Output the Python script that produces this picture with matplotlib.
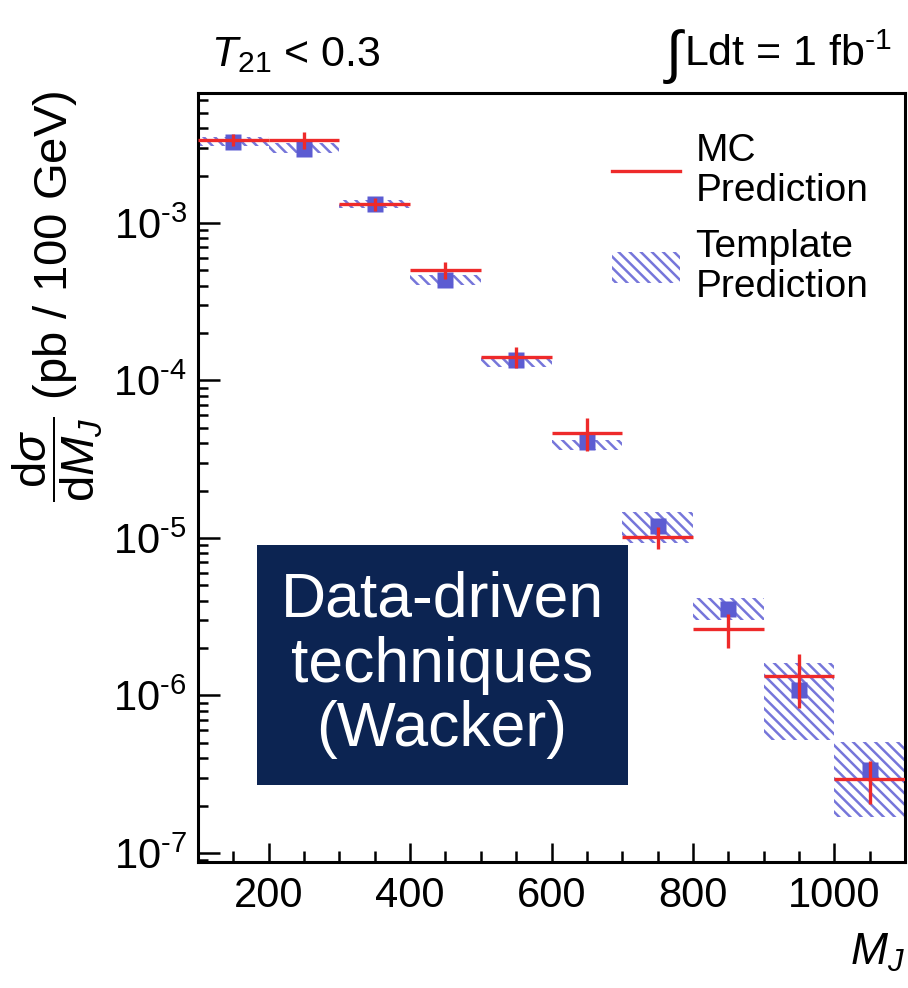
import numpy as np
import matplotlib
matplotlib.use("Agg")
import matplotlib.pyplot as plt
from matplotlib.lines import Line2D
from matplotlib.patches import Patch, Rectangle
from matplotlib.ticker import MultipleLocator, LogLocator, NullFormatter, FuncFormatter

plt.rcParams['font.family'] = ['Liberation Sans', 'DejaVu Sans']
plt.rcParams['mathtext.fontset'] = 'custom'
plt.rcParams['mathtext.rm'] = 'Liberation Sans'
plt.rcParams['mathtext.it'] = 'Liberation Sans:italic'
plt.rcParams['hatch.linewidth'] = 1.8

# bins of M_J (GeV)
bin_lo = np.array([100, 200, 300, 400, 500, 600, 700, 800, 900, 1000])
bin_hi = bin_lo + 100
centers = (bin_lo + bin_hi) / 2

# MC prediction and its error
mc = np.array([3.37e-3, 3.37e-3, 1.32e-3, 5.04e-4, 1.41e-4, 4.64e-5,
               1.01e-5, 2.64e-6, 1.33e-6, 2.95e-7])
mc_err = np.array([2.8e-4, 4.2e-4, 1.3e-4, 6.2e-5, 2.1e-5, 1.1e-5,
                   1.6e-6, 6.5e-7, 5.0e-7, 8.9e-8])

# template prediction: central value and band
templ = np.array([3.24e-3, 2.93e-3, 1.32e-3, 4.35e-4, 1.35e-4, 4.07e-5,
                  1.19e-5, 3.54e-6, 1.08e-6, 3.36e-7])
templ_lo = np.array([3.08e-3, 2.78e-3, 1.25e-3, 4.04e-4, 1.22e-4, 3.62e-5,
                     9.29e-6, 3.01e-6, 5.21e-7, 1.69e-7])
templ_hi = np.array([3.52e-3, 3.22e-3, 1.40e-3, 4.68e-4, 1.41e-4, 4.19e-5,
                     1.46e-5, 4.16e-6, 1.61e-6, 5.07e-7])

red = '#ee2a2a'
blue = '#5c5cd2'
hatch_col = '#7676da'

fig = plt.figure(figsize=(9.08, 9.88), dpi=100)
ax = fig.add_axes([198/908, 1-862/988, 707/908, 769/988])

ax.bar(centers, templ_hi - templ_lo, bottom=templ_lo, width=100,
       fill=False, hatch='\\\\\\', edgecolor=hatch_col, linewidth=0, zorder=1)
ax.plot(centers, templ, 's', ms=11.5, color=blue, mec='none', zorder=2)
ax.errorbar(centers, mc, xerr=50, yerr=mc_err, fmt='none', ecolor=red,
            elinewidth=2.4, capsize=0, zorder=3)

ax.set_yscale('log')
ax.set_xlim(100, 1100)
ax.set_ylim(8.77e-8, 6.68e-3)

ax.xaxis.set_major_locator(MultipleLocator(200))
ax.xaxis.set_minor_locator(MultipleLocator(50))
ax.yaxis.set_major_locator(LogLocator(base=10, numticks=20))
ax.yaxis.set_minor_locator(LogLocator(base=10, subs=np.arange(2, 10), numticks=20))
ax.yaxis.set_minor_formatter(NullFormatter())
ax.yaxis.set_major_formatter(FuncFormatter(
    lambda v, p: r'$10^{\text{-}%d}$' % round(-np.log10(v))))
ax.tick_params(which='both', direction='in', top=False, right=False, width=1.8,
               labelsize=30, colors='black')
ax.tick_params(axis='x', which='major', length=14, pad=10)
ax.tick_params(axis='x', which='minor', length=8)
ax.tick_params(axis='y', which='major', length=16, pad=8)
ax.tick_params(axis='y', which='minor', length=7)
for sp in ax.spines.values():
    sp.set_linewidth(2.2)

handles = [Line2D([], [], color=red, lw=2.4),
           Patch(facecolor='none', edgecolor=hatch_col, hatch='\\\\\\', linewidth=0)]
leg = ax.legend(handles, ['MC\nPrediction', 'Template\nPrediction'],
                loc='upper left', bbox_to_anchor=(612/908, 1-133/988),
                bbox_transform=fig.transFigure, frameon=False, fontsize=28,
                handlelength=1.75, handleheight=0.85, handletextpad=0.4,
                labelspacing=0.5, borderpad=0, borderaxespad=0)
for t in leg.get_texts():
    t.set_linespacing(1.15)

fig.text(211/908, 1-66/988, r'$T_{21}$ < 0.3', fontsize=31, va='baseline')
fig.text(663/908, 1-72/988, r'$\int$', fontsize=42, va='baseline')
fig.text(684/908, 1-66/988, r'Ldt = 1 fb$^{\text{-}1}$', fontsize=31,
         va='baseline', ha='left')
fig.text(58/908, 1-296/988, r'$\dfrac{\mathrm{d}\sigma}{\mathrm{d}M_J}$ (pb / 100 GeV)',
         fontsize=34, rotation=90, ha='center', va='center')
fig.text(905/908, 1-965/988, r'$M_J$', fontsize=32, ha='right', va='baseline')

# overlay box
fig.patches.append(Rectangle((257/908, 1-785/988), 371/908, 240/988,
                             transform=fig.transFigure, facecolor='#0c2452',
                             edgecolor='none', zorder=5))
fig.text(442/908, 1-665/988, 'Data-driven\ntechniques\n(Wacker)', fontsize=45,
         color='white', ha='center', va='center', linespacing=1.12, zorder=6)

fig.savefig('out.png', dpi=100)
